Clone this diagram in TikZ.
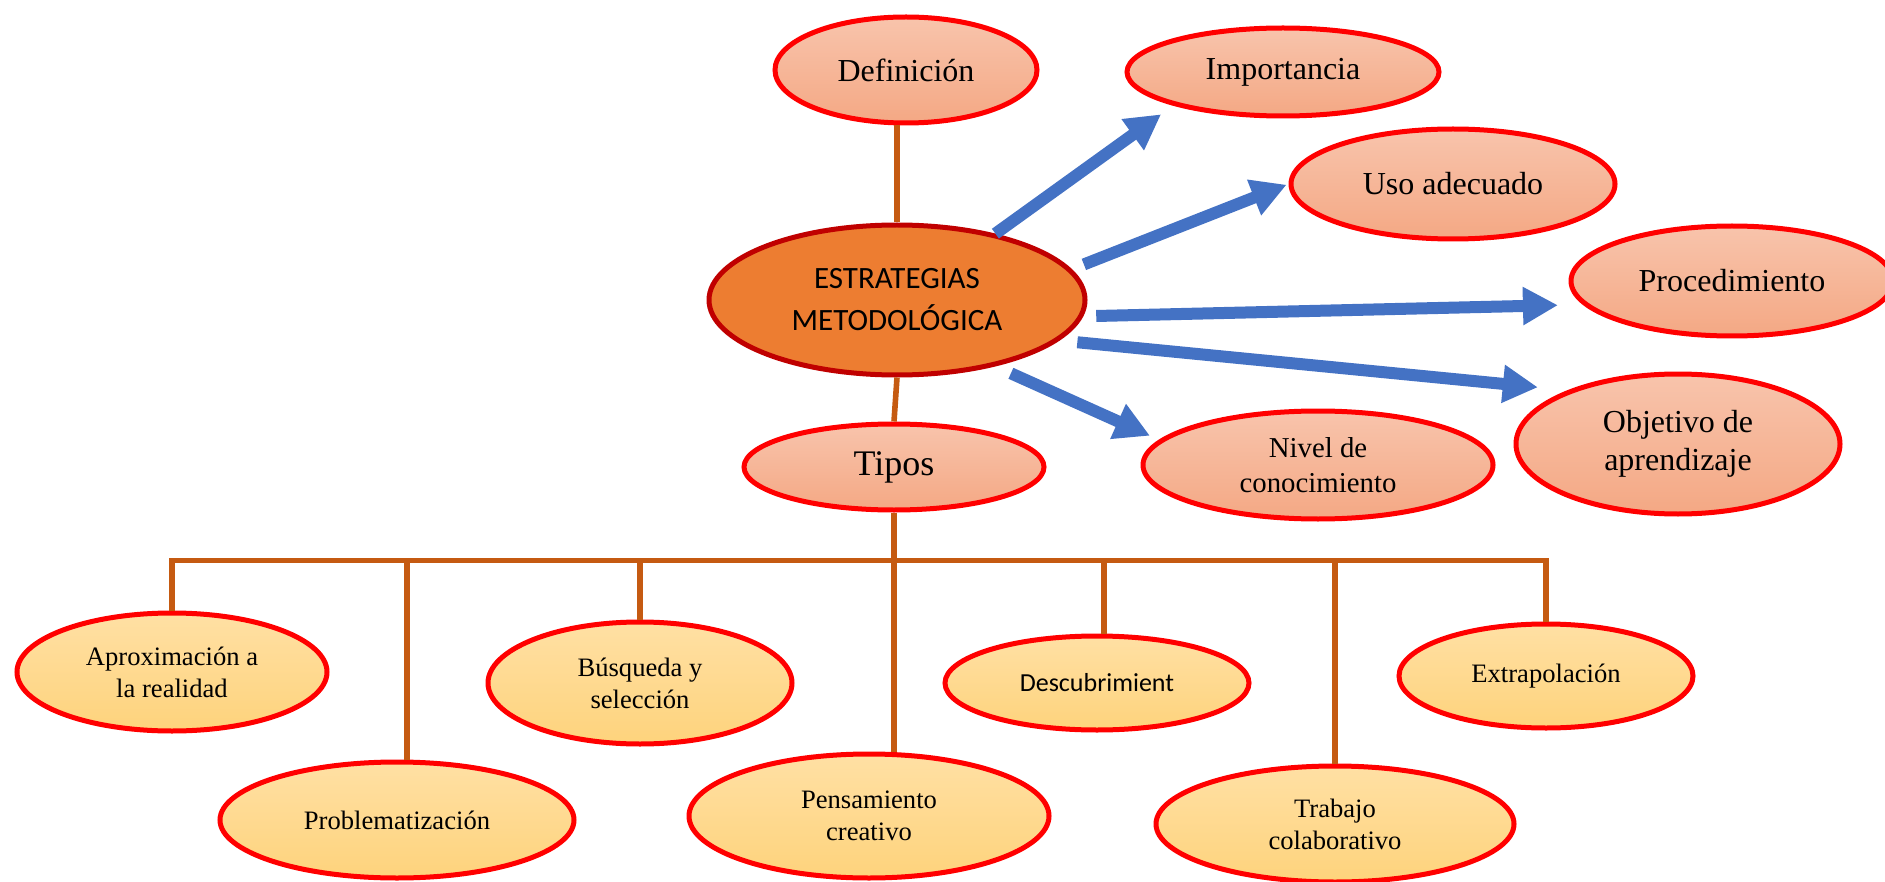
\documentclass[tikz,border=0pt]{standalone}
\usepackage{fontspec}
\setmainfont{Liberation Serif}
\newfontfamily\calibri{Carlito}
\usetikzlibrary{shapes.geometric,arrows.meta}

\definecolor{cafe}{RGB}{197,90,17}
\definecolor{azul}{RGB}{68,114,196}
\definecolor{naranja}{RGB}{237,125,49}
\definecolor{vino}{RGB}{192,0,0}
\definecolor{salmonA}{RGB}{248,196,172}
\definecolor{salmonB}{RGB}{244,168,132}
\definecolor{oroA}{RGB}{255,224,164}
\definecolor{oroB}{RGB}{254,211,124}

\begin{document}
\begin{tikzpicture}[x=0.5pt,y=0.5pt,yscale=-1,xscale=1,
	burbuja/.style={ellipse, draw=red, line width=2.5pt, inner sep=0pt, align=center, top color=salmonA, bottom color=salmonB, font=\fontsize{16}{19}\selectfont},
	hoja/.style={burbuja, top color=oroA, bottom color=oroB, font=\fontsize{13.3}{16}\selectfont},
	centro/.style={ellipse, draw=vino, fill=naranja, line width=2.5pt, inner sep=0pt, align=center, font=\calibri\fontsize{15.5}{21}\selectfont},
	rama/.style={draw=cafe, line width=2.8pt},
	flecha/.style={draw=azul, line width=6pt, -{Triangle[length=17.5pt,width=18pt]}}
	]
	%set diagram left start at 0, and has height of 882
	\useasboundingbox (0,0) rectangle (1885,882);
	
	\node[burbuja, minimum width=131pt, minimum height=53pt] (def) at (906,70) {Definición};
	\node[centro, minimum width=188pt, minimum height=75pt] (est) at (897,300) {ESTRATEGIAS\\METODOLÓGICA};
	\node[burbuja, minimum width=150pt, minimum height=43pt, font=\fontsize{18}{21}\selectfont] (tipos) at (894,467) {Tipos};
	
	\node[burbuja, minimum width=156pt, minimum height=44pt] (imp) at (1283,72) {Importancia};
	\node[burbuja, minimum width=162pt, minimum height=55pt] (uso) at (1453,184) {Uso adecuado};
	\node[burbuja, minimum width=161pt, minimum height=55pt] (proc) at (1732,281) {Procedimiento};
	\node[burbuja, minimum width=162pt, minimum height=70pt] (obj) at (1678,444) {Objetivo de\\aprendizaje};
	\node[burbuja, minimum width=175pt, minimum height=54pt, font=\fontsize{14.4}{17.5}\selectfont] (niv) at (1318,465) {Nivel de\\conocimiento};
	
	\node[hoja, minimum width=155pt, minimum height=59pt] (aprox) at (172,672) {Aproximación a\\la realidad};
	\node[hoja, minimum width=177pt, minimum height=58pt] (probl) at (397,820) {Problematización};
	\node[hoja, minimum width=152pt, minimum height=61pt] (busq) at (640,683) {Búsqueda y\\selección};
	\node[hoja, minimum width=180pt, minimum height=62pt] (pens) at (869,816) {Pensamiento\\creativo};
	\node[hoja, minimum width=152pt, minimum height=47pt, font=\calibri\fontsize{13}{16}\selectfont] (desc) at (1097,683) {Descubrimient};
	\node[hoja, minimum width=179pt, minimum height=58pt] (trab) at (1335,824) {Trabajo\\colaborativo};
	\node[hoja, minimum width=147pt, minimum height=52pt] (extrap) at (1546,676) {Extrapolación};
	
	\draw[rama] (est.north |- def.south) -- (est.north);
	\draw[rama] (est.south) -- (tipos.north);
	\draw[rama] (tipos.south) -- (tipos.south |- pens.north);
	\draw[rama] (aprox.north) -- ++(0,-50) coordinate (bus) -| (extrap.north);
	\draw[rama] ([xshift=5pt]probl.north) -- ([xshift=5pt]probl.north |- bus);
	\draw[rama] (busq.north) -- (busq.north |- bus);
	\draw[rama] ([xshift=3.5pt]desc.north) -- ([xshift=3.5pt]desc.north |- bus);
	\draw[rama] (trab.north) -- (trab.north |- bus);
	
	\draw[flecha, shorten >=7.5pt] (est.34) -- (imp.197);
	\draw[flecha, shorten <=6.5pt, shorten >=1pt] (est.10) -- (uso.180);
	\draw[flecha, shorten <=6.5pt, shorten >=12.5pt] (est.-5) -- (proc.189);
	\draw[flecha, shorten <=9pt, shorten >=15pt] (est.-14) -- (obj.154);
	\draw[flecha, shorten <=8.5pt, shorten >=5pt] (est.-34) -- (niv.171);
	
\end{tikzpicture}
\end{document}
